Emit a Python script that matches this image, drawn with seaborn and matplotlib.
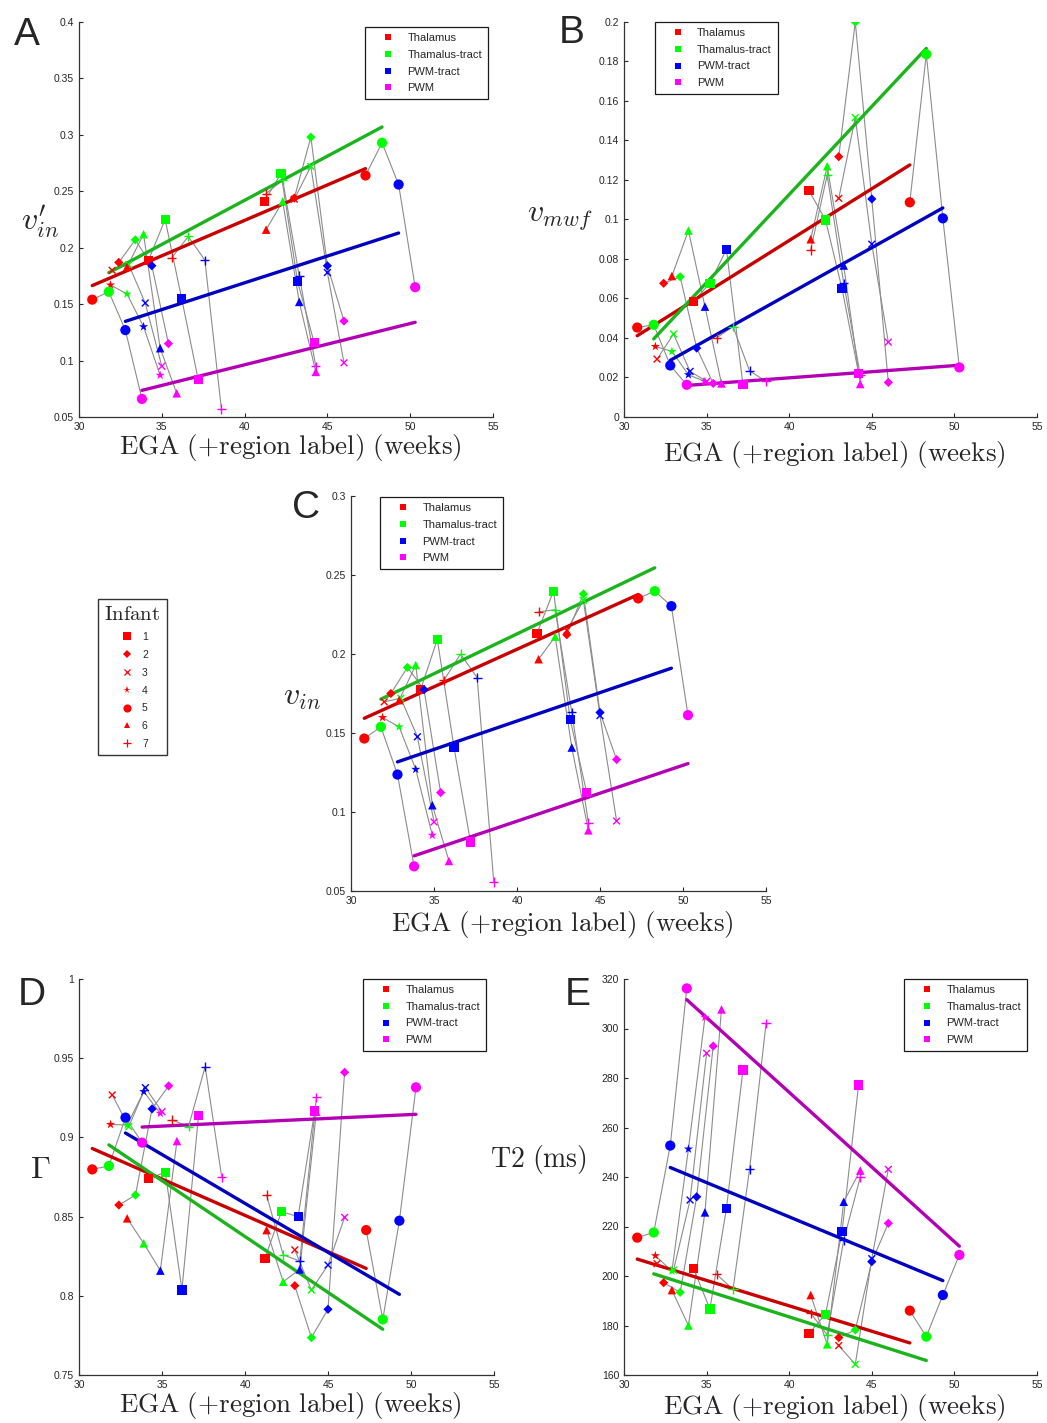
import numpy as np
import pandas as pd
import matplotlib
matplotlib.use('Agg')
import matplotlib.pyplot as plt
from matplotlib.lines import Line2D
from matplotlib.ticker import MultipleLocator, FuncFormatter
import seaborn as sns

# Regions, plotted at EGA + region index
regions = ['Thalamus', 'Thamalus-tract', 'PWM-tract', 'PWM']
region_offset = [0, 1, 2, 3]
region_colors = ['#ff0000', '#00ff00', '#0000ff', '#ff00ff']
fit_colors = ['#c80000', '#1cb41c', '#0000c0', '#b400b4']

# One entry per scan: infant id and EGA (weeks) of the scan
scan_infant = [1, 1, 2, 2, 3, 3, 4, 5, 5, 6, 6, 7, 7]
scan_ega = [34.2, 41.2, 32.4, 43.0, 32.0, 43.0, 31.9, 30.8, 47.3, 32.9, 41.3, 35.6, 41.3]

infant_markers = {1: 's', 2: 'D', 3: 'x', 4: '*', 5: 'o', 6: '^', 7: '+'}
infant_sizes = {1: 44, 2: 22, 3: 24, 4: 48, 5: 54, 6: 38, 7: 44}

# A: v'_in
a_thal = [0.189, 0.241, 0.187, 0.244, 0.180, 0.243, 0.167, 0.154, 0.264, 0.183, 0.216, 0.191, 0.248]
a_ttract = [0.225, 0.266, 0.207, 0.298, 0.185, 0.272, 0.159, 0.161, 0.293, 0.212, 0.241, 0.210, 0.260]
a_ptract = [0.155, 0.170, 0.184, 0.184, 0.151, 0.178, 0.130, 0.127, 0.256, 0.111, 0.152, 0.189, 0.175]
a_pwm = [0.083, 0.116, 0.115, 0.135, 0.095, 0.098, 0.087, 0.066, 0.165, 0.071, 0.090, 0.057, 0.095]

# B: v_mwf
b_thal = [0.0585, 0.1146, 0.0677, 0.1318, 0.0293, 0.1107, 0.0357, 0.0453, 0.1087, 0.0714, 0.090, 0.040, 0.0846]
b_ttract = [0.0677, 0.0997, 0.071, 0.200, 0.042, 0.1516, 0.0332, 0.0467, 0.1837, 0.0944, 0.127, 0.0458, 0.1225]
b_ptract = [0.0849, 0.0649, 0.0349, 0.1104, 0.0231, 0.0875, 0.0214, 0.0261, 0.1006, 0.0559, 0.0767, 0.0234, 0.0677]
b_pwm = [0.0163, 0.0222, 0.017, 0.0175, 0.018, 0.0379, 0.018, 0.0163, 0.0251, 0.017, 0.0167, 0.018, 0.0214]

# C: v_in
c_thal = [0.1777, 0.213, 0.175, 0.2122, 0.1697, 0.215, 0.1598, 0.1465, 0.2352, 0.1708, 0.1967, 0.1834, 0.2267]
c_ttract = [0.2092, 0.2398, 0.1915, 0.238, 0.172, 0.234, 0.1539, 0.1539, 0.2398, 0.193, 0.211, 0.200, 0.228]
c_ptract = [0.1412, 0.1587, 0.1775, 0.163, 0.1476, 0.161, 0.127, 0.1237, 0.2303, 0.1043, 0.1408, 0.185, 0.163]
c_pwm = [0.081, 0.1123, 0.1123, 0.1332, 0.0937, 0.0943, 0.0853, 0.0656, 0.1613, 0.069, 0.0884, 0.0557, 0.0933]

# D: Gamma
d_thal = [0.8742, 0.8237, 0.8573, 0.8064, 0.9268, 0.829, 0.9082, 0.8798, 0.8415, 0.8489, 0.8415, 0.911, 0.8636]
d_ttract = [0.8779, 0.8531, 0.8636, 0.7736, 0.9068, 0.8037, 0.9078, 0.882, 0.7851, 0.8331, 0.8089, 0.9068, 0.8258]
d_ptract = [0.8037, 0.85, 0.918, 0.7915, 0.9314, 0.8194, 0.9289, 0.9125, 0.8474, 0.8159, 0.8167, 0.9447, 0.822]
d_pwm = [0.9137, 0.9167, 0.9325, 0.9411, 0.9162, 0.8495, 0.9152, 0.8967, 0.9316, 0.8977, 0.9162, 0.8748, 0.9253]

# E: T2 (ms)
e_thal = [203.1, 176.8, 197.3, 175.1, 205.0, 171.9, 208.2, 215.5, 186.0, 194.3, 192.3, 200.7, 185.0]
e_ttract = [186.7, 184.6, 193.4, 178.2, 202.4, 164.3, 202.0, 217.6, 175.5, 180.0, 172.4, 194.6, 176.2]
e_ptract = [227.3, 217.9, 232.0, 205.8, 230.7, 207.0, 251.3, 252.7, 192.3, 225.7, 230.0, 243.1, 214.5]
e_pwm = [283.2, 277.2, 292.9, 221.3, 290.0, 243.1, 304.5, 316.2, 208.5, 307.7, 242.6, 302.1, 239.9]

sns.set_style('ticks')
plt.rcParams['font.family'] = ['Liberation Sans', 'DejaVu Sans']
plt.rcParams['mathtext.fontset'] = 'cm'

W, H = 1047, 1423
fig = plt.figure(figsize=(W / 100, H / 100), dpi=100)


def px_axes(left, top, right, bottom):
    return fig.add_axes([left / W, 1 - bottom / H, (right - left) / W, (bottom - top) / H])


def draw_panel(ax, values, ylim, ystep, ylabel, ylab_xy, ylab_fs, xlab_y, leg_loc, leg_anchor):
    rows = []
    for r, (reg, vals) in enumerate(zip(regions, values)):
        for s, v in enumerate(vals):
            rows.append({'scan': s, 'infant': scan_infant[s], 'region': reg,
                         'x': scan_ega[s] + region_offset[r], 'y': v})
    df = pd.DataFrame(rows)

    # thin grey lines join the four regions of one scan
    sns.lineplot(data=df, x='x', y='y', units='scan', estimator=None,
                 color='0.55', lw=0.8, ax=ax, zorder=1)
    # linear fit per region
    for r, reg in enumerate(regions):
        sns.regplot(data=df[df.region == reg], x='x', y='y', scatter=False, ci=None,
                    truncate=True, color=fit_colors[r], line_kws={'lw': 2.4, 'zorder': 2}, ax=ax)
    pal = dict(zip(regions, region_colors))
    for inf, mk in infant_markers.items():
        sub = df[df.infant == inf]
        filled = mk not in ('x', '+')
        sns.scatterplot(data=sub, x='x', y='y', hue='region', palette=pal, marker=mk,
                        s=infant_sizes[inf], linewidth=0 if filled else 1.0,
                        legend=False, ax=ax, zorder=3)

    ax.set_xlim(30, 55)
    ax.set_ylim(*ylim)
    ax.xaxis.set_major_locator(MultipleLocator(5))
    ax.yaxis.set_major_locator(MultipleLocator(ystep))
    fmt = FuncFormatter(lambda v, p: '%g' % round(v, 4))
    ax.xaxis.set_major_formatter(fmt)
    ax.yaxis.set_major_formatter(fmt)
    ax.tick_params(direction='in', length=3, width=0.8, labelsize=7.5, colors='0.15')
    sns.despine(ax=ax)
    for sp in ax.spines.values():
        sp.set_linewidth(0.9)
        sp.set_color('0.2')

    ax.set_xlabel(r'$\mathrm{EGA\ (+region\ label)\ (weeks)}$', fontsize=19.5, va='center')
    ax.xaxis.set_label_coords(0.51, xlab_y)
    ax.set_ylabel(ylabel, fontsize=ylab_fs, rotation=0, va='center', ha='center')
    ax.yaxis.set_label_coords(*ylab_xy)

    handles = [Line2D([], [], ls='none', marker='s', ms=5, color=c, mew=0) for c in region_colors]
    ax.legend(handles, regions, loc=leg_loc, bbox_to_anchor=leg_anchor, fontsize=8,
              frameon=True, fancybox=False, framealpha=1, edgecolor='0.1',
              handlelength=3.0, handletextpad=0.25, borderpad=0.55, labelspacing=0.6,
              borderaxespad=0)
    ax.get_legend().get_frame().set_linewidth(0.9)


ax_a = px_axes(79, 22, 493, 417)
draw_panel(ax_a, [a_thal, a_ttract, a_ptract, a_pwm], (0.05, 0.4), 0.05,
           r"$v_{in}^{\prime}$", (-0.095, 0.494), 23, -0.078, 'upper right', (0.988, 0.987))

ax_b = px_axes(624, 22, 1037, 417)
draw_panel(ax_b, [b_thal, b_ttract, b_ptract, b_pwm], (0, 0.2), 0.02,
           r'$v_{mwf}$', (-0.155, 0.504), 23, -0.096, 'upper left', (0.075, 1.0))

ax_c = px_axes(351, 496, 766, 891)
draw_panel(ax_c, [c_thal, c_ttract, c_ptract, c_pwm], (0.05, 0.3), 0.05,
           r'$v_{in}$', (-0.118, 0.49), 23, -0.084, 'upper left', (0.07, 0.997))

ax_d = px_axes(79, 979, 494, 1375)
draw_panel(ax_d, [d_thal, d_ttract, d_ptract, d_pwm], (0.75, 1.0), 0.05,
           r'$\Gamma$', (-0.094, 0.518), 23, -0.078, 'upper right', (0.981, 1.0))

ax_e = px_axes(624, 979, 1037, 1375)
draw_panel(ax_e, [e_thal, e_ttract, e_ptract, e_pwm], (160, 320), 20,
           r'$\mathrm{T2\ (ms)}$', (-0.208, 0.543), 20, -0.083, 'upper right', (0.976, 1.0))

# panel letters
for letter, (px, py) in zip('ABCDE', [(27, 35), (572, 33), (306, 508), (32, 995), (578, 995)]):
    fig.text(px / W, 1 - py / H, letter, fontsize=28, ha='center', va='center')

# infant marker legend
inf_handles = []
for inf, mk in infant_markers.items():
    filled = mk not in ('x', '+')
    inf_handles.append(Line2D([], [], ls='none', marker=mk, color='red',
                              ms=np.sqrt(infant_sizes[inf]) * 0.8, mew=0 if filled else 0.9))
fig.legend(inf_handles, [str(i) for i in infant_markers], title=r'$\mathrm{Infant}$',
           title_fontsize=15, fontsize=7.5, loc='upper left', bbox_to_anchor=(98 / W, 1 - 599 / H),
           frameon=True, fancybox=False, framealpha=1, edgecolor='0.2',
           handlelength=2.0, handletextpad=0.4, borderpad=0.6, labelspacing=0.75, borderaxespad=0)

fig.savefig('out.png', dpi=100)
